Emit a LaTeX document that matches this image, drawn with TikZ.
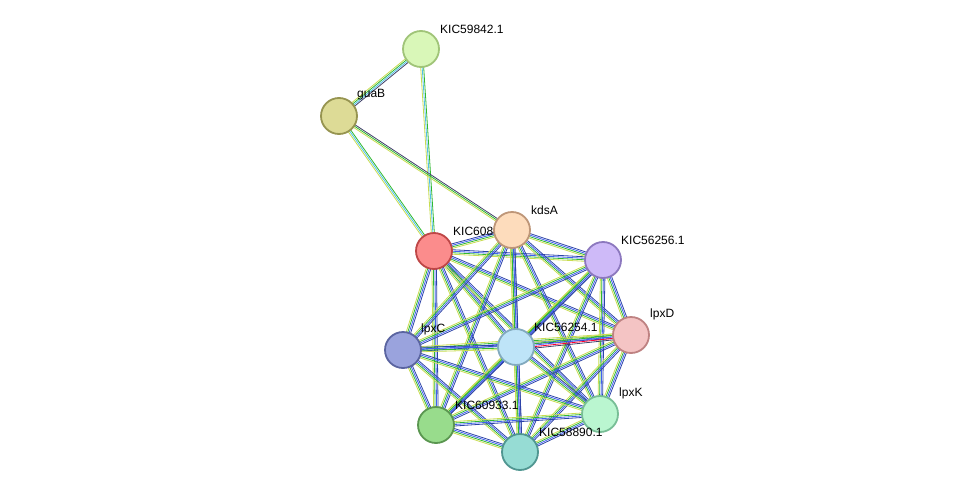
\documentclass[tikz,border=0pt]{standalone}
\usepackage{fontspec}
\setmainfont{Liberation Sans}
\usetikzlibrary{calc}

\definecolor{eyel}{HTML}{C8DC50}
\definecolor{egrn}{HTML}{30B830}
\definecolor{eblu}{HTML}{4060F0}
\definecolor{ecya}{HTML}{50C0E8}
\definecolor{eblk}{HTML}{404068}

\tikzset{
  prot/.style={circle, draw, line width=1.8pt, minimum size=36pt, inner sep=0pt},
  lbl/.style={anchor=south west, font=\fontsize{12}{13}\selectfont, inner sep=1pt},
  strand/.style={line width=0.8pt}
}

% one connector made of parallel coloured strands
\newcommand{\linkedge}[3]{%
  \foreach \col [count=\i] in {#3} {
    \pgfmathsetmacro{\off}{(\i-1)*1.5-0.75*(\thecount-1)}
    \draw[strand, \col] ($(#1)!\off pt!90:(#2)$) -- ($(#2)!\off pt!-90:(#1)$);
  }%
}

\begin{document}
\begin{tikzpicture}[x=1pt, y=-1pt]
    \useasboundingbox (0,0) rectangle (975,498);

    % Positions
    \coordinate (pA) at (421,49);
    \coordinate (pB) at (339,116);
    \coordinate (pC) at (434,251);
    \coordinate (pD) at (512,230);
    \coordinate (pE) at (603,260);
    \coordinate (pF) at (631,335);
    \coordinate (pG) at (403,350);
    \coordinate (pH) at (516,347);
    \coordinate (pI) at (600,414);
    \coordinate (pJ) at (436,425);
    \coordinate (pK) at (520,452);

    % Outer connectors
    \def\thecount{4}
    \linkedge{pA}{pB}{eyel,egrn,ecya,eblk}
    \def\thecount{3}
    \linkedge{pA}{pC}{eyel,ecya,egrn}
    \linkedge{pB}{pC}{eyel,ecya,egrn}
    \linkedge{pB}{pD}{eyel,egrn,eblk}

    % Cluster connectors
    \def\thecount{4}
    \foreach \a/\b in {pC/pD,pC/pE,pC/pF,pC/pG,pC/pH,pC/pI,pC/pJ,pC/pK,
                       pD/pE,pD/pF,pD/pG,pD/pH,pD/pI,pD/pJ,pD/pK,
                       pE/pF,pE/pG,pE/pH,pE/pI,pE/pJ,pE/pK,
                       pF/pG,pF/pI,pF/pJ,pF/pK,
                       pG/pH,pG/pI,pG/pJ,pG/pK,
                       pH/pI,pH/pJ,pH/pK,
                       pI/pJ,pI/pK,pJ/pK}
      {\linkedge{\a}{\b}{eyel,egrn,eblu,eblu!70!black}}
    \def\thecount{5}
    \linkedge{pF}{pH}{eyel,egrn,eblu,red!80!magenta,eblk}

    % Proteins and their labels
    \node[prot, fill={rgb,255:red,217;green,247;blue,184}, draw={rgb,255:red,160;green,196;blue,120}] (KIC59842) at (pA) {};
    \node[lbl] (tA) at (439,35) {KIC59842.1};
    \node[prot, fill={rgb,255:red,221;green,219;blue,150}, draw={rgb,255:red,150;green,148;blue,80}] (guaB) at (pB) {};
    \node[lbl] (tB) at (356,101) {guaB};
    \node[prot, fill={rgb,255:red,251;green,140;blue,140}, draw={rgb,255:red,190;green,70;blue,70}] (KIC60886) at (pC) {};
    \node[lbl] (tC) at (452,237) {KIC60886.1};
    \node[prot, fill={rgb,255:red,253;green,220;blue,188}, draw={rgb,255:red,190;green,150;blue,120}] (kdsA) at (pD) {};
    \node[lbl] (tD) at (530,216) {kdsA};
    \node[prot, fill={rgb,255:red,206;green,186;blue,248}, draw={rgb,255:red,140;green,120;blue,190}] (KIC56256) at (pE) {};
    \node[lbl] (tE) at (620,246) {KIC56256.1};
    \node[prot, fill={rgb,255:red,244;green,196;blue,196}, draw={rgb,255:red,190;green,130;blue,130}] (lpxD) at (pF) {};
    \node[lbl] (tF) at (649,321) {lpxD};
    \node[prot, fill={rgb,255:red,154;green,163;blue,221}, draw={rgb,255:red,90;green,100;blue,160}] (lpxC) at (pG) {};
    \node[lbl] (tG) at (420,336) {lpxC};
    \node[prot, fill={rgb,255:red,190;green,228;blue,248}, draw={rgb,255:red,130;green,170;blue,190}] (KIC56254) at (pH) {};
    \node[lbl] (tH) at (533,333) {KIC56254.1};
    \node[prot, fill={rgb,255:red,186;green,246;blue,208}, draw={rgb,255:red,120;green,190;blue,150}] (lpxK) at (pI) {};
    \node[lbl] (tI) at (618,400) {lpxK};
    \node[prot, fill={rgb,255:red,152;green,220;blue,140}, draw={rgb,255:red,90;green,150;blue,80}] (KIC60933) at (pJ) {};
    \node[lbl] (tJ) at (454,411) {KIC60933.1};
    \node[prot, fill={rgb,255:red,150;green,220;blue,212}, draw={rgb,255:red,80;green,150;blue,145}] (KIC58890) at (pK) {};
    \node[lbl] (tK) at (538,438) {KIC58890.1};
\end{tikzpicture}
\end{document}
